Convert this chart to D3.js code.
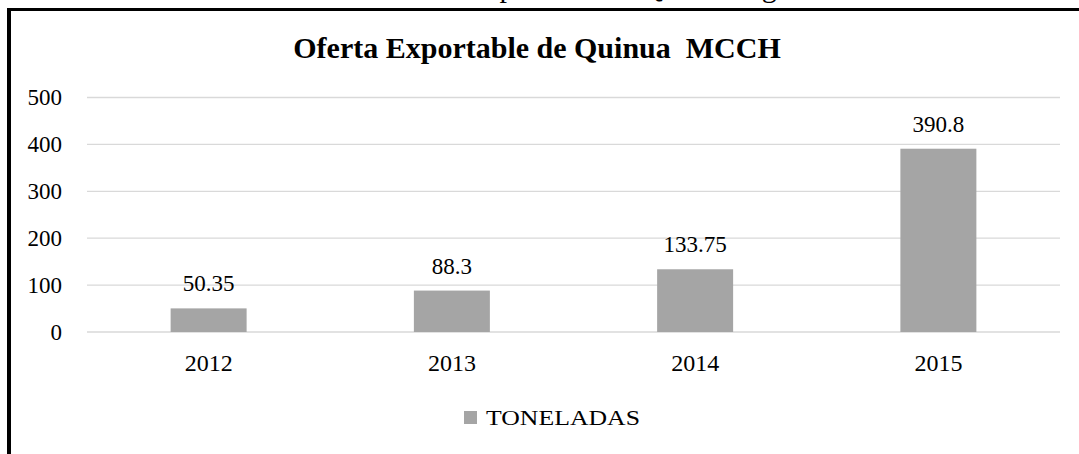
<!DOCTYPE html>
<html>
<head>
    <title>Oferta Exportable de Quinua MCCH</title>
    <script src="https://cdnjs.cloudflare.com/ajax/libs/d3/7.8.5/d3.min.js"></script>
    <style>
        body {
            margin: 0;
            background: #fff;
        }

        svg text {
            font-family: "Liberation Serif", "DejaVu Serif", serif;
        }

        .grid line {
            stroke: #d9d9d9;
            stroke-width: 1.3px;
        }

        .bar {
            fill: #a5a5a5;
        }
    </style>
</head>
<body>
<svg id="chart"></svg>

<script>
    const years = ["2012", "2013", "2014", "2015"];
    const toneladas = [50.35, 88.3, 133.75, 390.8];
    const yTicks = [0, 100, 200, 300, 400, 500];
    const seriesName = "TONELADAS";

    const width = 1079;
    const height = 454;
    const serif = "'Liberation Serif', 'DejaVu Serif', serif";

    const svg = d3.select("#chart")
        .attr("width", width)
        .attr("height", height)
        .attr("font-family", serif);

    // caption of the document, cut off by the top of the picture
    svg.append("text")
        .attr("x", 382)
        .attr("y", -3)
        .style("font-size", "30px")
        .text("Oferta Exportable de Quinua según años");

    // frame (only top and left visible)
    svg.append("line")
        .attr("x1", 7).attr("x2", width)
        .attr("y1", 9.5).attr("y2", 9.5)
        .attr("stroke", "#000").attr("stroke-width", 3);
    svg.append("line")
        .attr("x1", 9).attr("x2", 9)
        .attr("y1", 8).attr("y2", height)
        .attr("stroke", "#000").attr("stroke-width", 4);

    const x = d3.scaleBand()
        .domain(years)
        .range([87, 1060])
        .paddingInner(0.6876)
        .paddingOuter(0.3438);

    const y = d3.scaleLinear()
        .domain([0, 500])
        .range([332, 97.5]);

    // title
    svg.append("text")
        .attr("x", 537)
        .attr("y", 58)
        .attr("text-anchor", "middle")
        .style("font-size", "30px")
        .style("font-weight", "bold")
        .style("white-space", "pre")
        .attr("xml:space", "preserve")
        .text("Oferta Exportable de Quinua  MCCH");

    // gridlines
    svg.append("g")
        .attr("class", "grid")
        .selectAll("line")
        .data(yTicks)
        .join("line")
        .attr("x1", 87)
        .attr("x2", 1060)
        .attr("y1", d => y(d))
        .attr("y2", d => y(d));

    // y axis labels
    const yAxis = d3.axisLeft(y).tickValues(yTicks).tickSize(0).tickPadding(25);
    const gy = svg.append("g")
        .attr("transform", "translate(87,0)")
        .call(yAxis)
        .attr("font-family", serif);
    gy.select(".domain").remove();
    gy.selectAll("text")
        .style("font-size", "23px")
        .attr("fill", "#000");

    // x axis labels
    const xAxis = d3.axisBottom(x).tickSize(0).tickPadding(22);
    const gx = svg.append("g")
        .attr("transform", "translate(0,332)")
        .call(xAxis)
        .attr("font-family", serif);
    gx.select(".domain").remove();
    gx.selectAll("text")
        .style("font-size", "24px")
        .attr("fill", "#000");

    // bars
    svg.append("g")
        .selectAll("rect")
        .data(toneladas)
        .join("rect")
        .attr("class", "bar")
        .attr("x", (d, i) => x(years[i]))
        .attr("width", x.bandwidth())
        .attr("y", d => y(d))
        .attr("height", d => y(0) - y(d));

    // value labels
    svg.append("g")
        .selectAll("text")
        .data(toneladas)
        .join("text")
        .attr("x", (d, i) => x(years[i]) + x.bandwidth() / 2)
        .attr("y", d => y(d) - 17)
        .attr("text-anchor", "middle")
        .style("font-size", "23px")
        .text(d => d);

    // legend
    const legend = svg.append("g").attr("transform", "translate(464,411)");
    legend.append("rect")
        .attr("class", "bar")
        .attr("width", 13)
        .attr("height", 13);
    legend.append("text")
        .attr("x", 22)
        .attr("y", 14)
        .style("font-size", "22px")
        .attr("textLength", 154)
        .attr("lengthAdjust", "spacingAndGlyphs")
        .text(seriesName);
</script>
</body>
</html>
